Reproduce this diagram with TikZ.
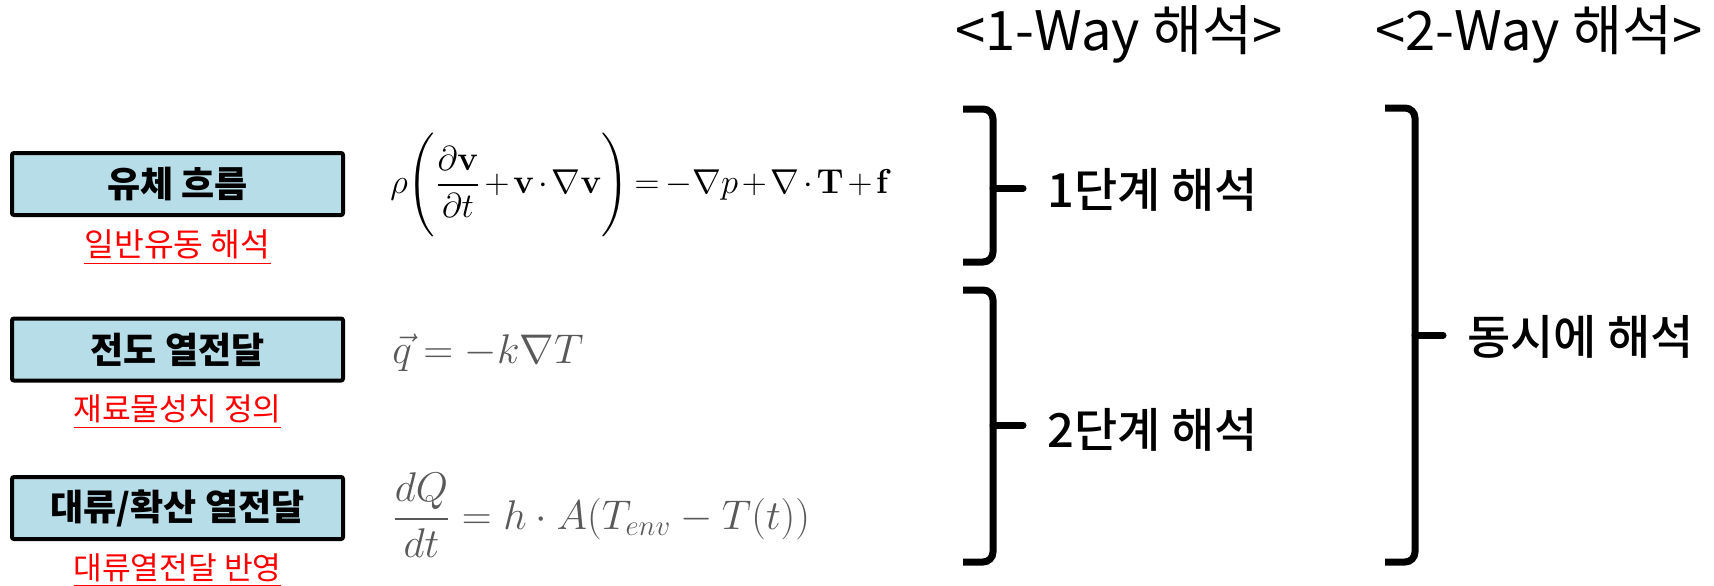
\documentclass[tikz,border=0pt]{standalone}
\usepackage{amsmath}
\usepackage[no-math]{fontspec}
\setmainfont{Noto Sans CJK KR}
\newfontfamily\mediumfont{Noto Sans CJK KR Medium}
\usetikzlibrary{positioning}
\definecolor{boxblue}{RGB}{183,221,232}
\definecolor{eqgray}{RGB}{89,89,89}
\tikzset{
	termbox/.style={
			draw=black,
			line width=2pt,
			fill=boxblue,
			minimum width=165.5pt,
			minimum height=31pt,
			rounded corners=1pt,
			font=\fontsize{18}{21}\selectfont\bfseries,
		},
	redlabel/.style={text=red, inner sep=0pt, font=\fontsize{15.6}{18}\selectfont},
	eqlabel/.style={anchor=west, inner sep=0pt},
	headlabel/.style={inner sep=0pt, font=\fontsize{27.2}{31}\selectfont},
	steplabel/.style={anchor=west, inner sep=0pt, font=\fontsize{23.5}{27}\mediumfont},
	bracket/.style={line width=3.5pt, rounded corners=5pt},
}

\begin{document}
\begin{tikzpicture}[x=0.5pt, y=-0.5pt]
		\useasboundingbox (0,0) rectangle (1714,585);

		% physics on the left
		\node [termbox] (flow) at (177.5,184) {유체 흐름};
		\node [redlabel, below=6pt of flow, font=\fontsize{16.2}{19}\selectfont] (flownote) {\underline{일반유동 해석}};
		\node [termbox] (cond) at (177.5,349.5) {전도 열전달};
		\node [redlabel, below=6pt of cond] (condnote) {\underline{재료물성치 정의}};
		\node [termbox] (conv) at (177.5,508) {대류/확산 열전달};
		\node [redlabel, below=6pt of conv] (convnote) {\underline{대류열전달 반영}};

		\node [eqlabel, font=\fontsize{17}{20}\selectfont] (navier) at (390,185)
			{\thickmuskip=3mu \medmuskip=2mu
			$\displaystyle \rho\Biggl(\frac{\partial\mathbf{v}}{\partial t}+\mathbf{v}\cdot\nabla\mathbf{v}\Biggr)=-\nabla p+\nabla\cdot\mathbf{T}+\mathbf{f}$};
		\node [eqlabel, text=eqgray, font=\fontsize{20}{24}\selectfont] (fourier) at (392,353)
			{$\vec{q}=-k\nabla T$};
		\node [eqlabel, text=eqgray, font=\fontsize{20.5}{24}\selectfont] (newton) at (392,515)
			{$\displaystyle \frac{dQ}{dt}=h\cdot A(T_{env}-T(t))$};

		% analysis headers
		\node [headlabel] (oneway) at (1119,34) {<1-Way 해석>};
		\node [headlabel] (twoway) at (1539,34) {<2-Way 해석>};

		% braces
		\coordinate (b1n) at (963,109);
		\coordinate (b1s) at (963,262);
		\coordinate (b1m) at (993,188);
		\coordinate (b2n) at (963,290);
		\coordinate (b2s) at (963,562);
		\coordinate (b2m) at (993,425);
		\coordinate (b3n) at (1385,108);
		\coordinate (b3s) at (1385,562);
		\coordinate (b3m) at (1415,335);

		\node [steplabel] (step1) at (1047,190) {1단계 해석};
		\node [steplabel] (step2) at (1047,430) {2단계 해석};
		\node [steplabel] (simul) at (1467,337) {동시에 해석};

		\draw [bracket] (b1n) -| (b1m) |- (b1s);
		\draw [bracket] (b2n) -| (b2m) |- (b2s);
		\draw [bracket] (b3n) -| (b3m) |- (b3s);
		\draw [bracket, line cap=round] (b1m) -- ([xshift=-12pt]step1.west |- b1m);
		\draw [bracket, line cap=round] (b2m) -- ([xshift=-12pt]step2.west |- b2m);
		\draw [bracket, line cap=round] (b3m) -- ([xshift=-12pt]simul.west |- b3m);
	\end{tikzpicture}
\end{document}
